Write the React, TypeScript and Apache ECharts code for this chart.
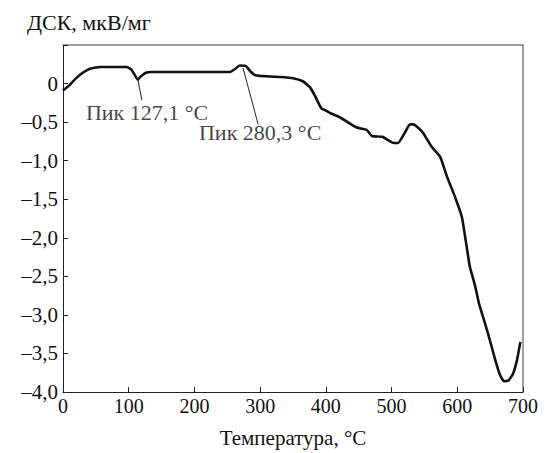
import React, { useEffect, useRef } from "react";
import * as echarts from "echarts";

const temperature = [0, 10, 20, 30, 40, 56, 97, 104, 110, 114, 118, 126, 135, 254, 262, 269, 278, 285, 292, 300, 330, 350, 365, 376, 384, 393, 400, 406, 422, 435, 447, 462, 470, 486, 503, 510, 520, 528, 533, 540, 548, 561, 574, 584, 597, 607, 612, 619, 627, 633, 640, 647, 658, 665, 671, 678, 685, 691, 696];
const dsc = [-0.09, -0.02, 0.07, 0.14, 0.19, 0.215, 0.215, 0.18, 0.1, 0.05, 0.09, 0.14, 0.15, 0.15, 0.19, 0.235, 0.23, 0.16, 0.11, 0.1, 0.085, 0.07, 0.03, -0.05, -0.17, -0.32, -0.35, -0.38, -0.44, -0.51, -0.57, -0.6, -0.68, -0.69, -0.77, -0.77, -0.64, -0.53, -0.53, -0.57, -0.64, -0.82, -0.95, -1.2, -1.48, -1.73, -1.99, -2.37, -2.62, -2.85, -3.05, -3.25, -3.59, -3.78, -3.86, -3.85, -3.76, -3.58, -3.35];

const annotationTexts = ["Пик 127,1 °C", "Пик 280,3 °C"];
const annotationLabelPos = [[128, -0.38], [300, -0.63]];
const annotationLeaders = [
  [[114, 0.05], [120, -0.215]],
  [[274, 0.2], [297, -0.53]],
];

const xTitle = "Температура, °C";
const yTitle = "ДСК, мкВ/мг";

const FONT = "'Liberation Serif', 'Times New Roman', serif";

const fmtY = (v: number) => {
  if (v > 0.001) return "";
  if (Math.abs(v) < 1e-9) return "0";
  return (v < 0 ? "–" : "") + Math.abs(v).toFixed(1).replace(".", ",");
};

export default function App() {
  const ref = useRef<HTMLDivElement>(null);
  useEffect(() => {
    if (!ref.current) return;
    const chart = echarts.init(ref.current, null, { renderer: "svg" });
    const data = temperature.map((t, i) => [t, dsc[i]]);
    chart.setOption({
      animation: false,
      backgroundColor: "#fff",
      textStyle: { fontFamily: FONT },
      title: {
        text: yTitle,
        left: 27,
        top: 11,
        padding: 0,
        textStyle: { fontFamily: FONT, fontSize: 22, fontWeight: "normal", color: "#111" },
      },
      grid: { left: 63, right: 21, top: 45, bottom: 54, containLabel: false },
      xAxis: [
        {
          type: "value",
          min: 0,
          max: 700,
          interval: 100,
          name: xTitle,
          nameLocation: "middle",
          nameGap: 35,
          nameTextStyle: { fontFamily: FONT, fontSize: 21, color: "#111" },
          axisLine: { onZero: false, lineStyle: { color: "#222", width: 1 } },
          axisTick: { inside: true, length: 5, lineStyle: { color: "#222" } },
          axisLabel: { fontFamily: FONT, fontSize: 20, color: "#111", margin: 4 },
          splitLine: { show: false },
        },
        {
          type: "value",
          position: "top",
          min: 0,
          max: 700,
          axisLine: { show: true, onZero: false, lineStyle: { color: "#808080", width: 1.5 } },
          axisTick: { show: false },
          axisLabel: { show: false },
          splitLine: { show: false },
        },
      ],
      yAxis: [
        {
          type: "value",
          min: -4,
          max: 0.5,
          interval: 0.5,
          axisLine: { show: true, onZero: false, lineStyle: { color: "#222", width: 1 } },
          axisTick: { show: true, inside: true, length: 5, lineStyle: { color: "#222" } },
          axisLabel: { fontFamily: FONT, fontSize: 21, color: "#111", margin: 5, formatter: fmtY },
          splitLine: { show: false },
        },
        {
          type: "value",
          position: "right",
          min: -4,
          max: 0.5,
          axisLine: { show: true, onZero: false, lineStyle: { color: "#808080", width: 1.5 } },
          axisTick: { show: false },
          axisLabel: { show: false },
          splitLine: { show: false },
        },
      ],
      series: [
        {
          type: "line",
          data,
          showSymbol: false,
          smooth: 0.15,
          lineStyle: { color: "#111", width: 2.6 },
          markLine: {
            silent: true,
            symbol: "none",
            label: { show: false },
            lineStyle: { color: "#222", width: 1, type: "solid" },
            data: annotationLeaders.map((seg) => [{ coord: seg[0] }, { coord: seg[1] }]),
          },
        },
        {
          type: "scatter",
          data: annotationLabelPos.map((p, i) => ({ value: p, name: annotationTexts[i] })),
          symbolSize: 0,
          silent: true,
          label: {
            show: true,
            position: "inside",
            formatter: (p: any) => p.name,
            fontFamily: FONT,
            fontSize: 22,
            color: "#111",
            align: "center",
            verticalAlign: "middle",
          },
        },
      ],
    });
    return () => chart.dispose();
  }, []);
  return (
    <div
      ref={ref}
      style={{ position: "absolute", left: 0, top: 0, width: 544, height: 453 }}
    />
  );
}
